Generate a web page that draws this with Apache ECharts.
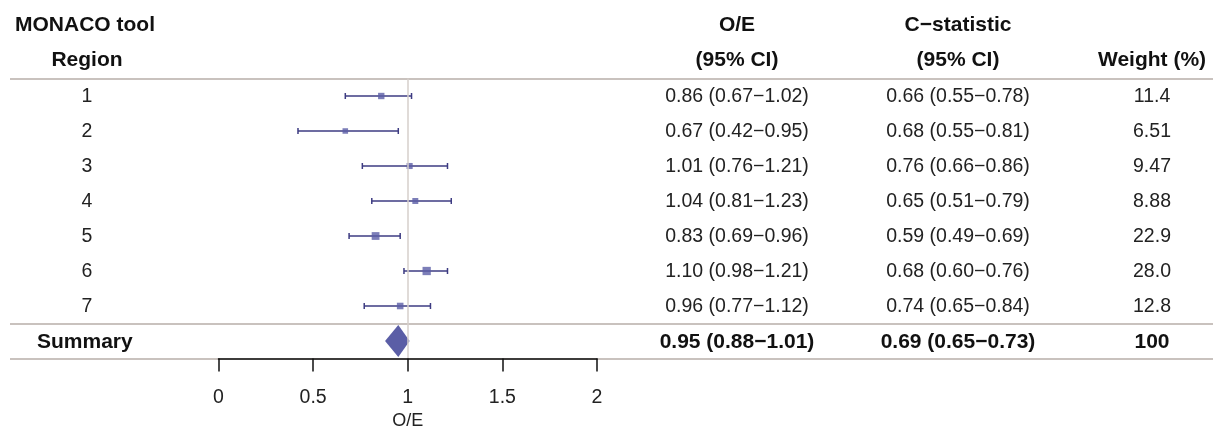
<!DOCTYPE html>
<html>
<head>
<meta charset="utf-8">
<script src="https://cdn.jsdelivr.net/npm/echarts@6/dist/echarts.min.js"></script>
<style>
html,body{margin:0;padding:0;background:#fff;}
#main{width:1213px;height:428px;}
</style>
</head>
<body>
<div id="main"></div>
<script>
// ---- data ----
const regions = ['1','2','3','4','5','6','7'];
const oeEst = [0.86, 0.67, 1.01, 1.04, 0.83, 1.10, 0.96];
const oeLow = [0.67, 0.42, 0.76, 0.81, 0.69, 0.98, 0.77];
const oeHigh = [1.02, 0.95, 1.21, 1.23, 0.96, 1.21, 1.12];
const cEst = [0.66, 0.68, 0.76, 0.65, 0.59, 0.68, 0.74];
const cLow = [0.55, 0.55, 0.66, 0.51, 0.49, 0.60, 0.65];
const cHigh = [0.78, 0.81, 0.86, 0.79, 0.69, 0.76, 0.84];
const weights = ['11.4', '6.51', '9.47', '8.88', '22.9', '28.0', '12.8'];
const summaryLabel = 'Summary';
const summaryOE = [0.95, 0.88, 1.01];
const summaryC = [0.69, 0.65, 0.73];
const summaryWeight = '100';
const xTicks = [0, 0.5, 1, 1.5, 2];
const headerTop = ['MONACO tool', 'O/E', 'C\u2212statistic'];
const headerBottom = ['Region', '(95% CI)', '(95% CI)', 'Weight (%)'];

// ---- layout ----
const FONT = '"Liberation Sans", Arial, Helvetica, sans-serif';
const FS = 19.5;
const FSB = 21;
const colX = {label: 87, oe: 737, c: 958, w: 1152};
const fmt = (e, l, h) => e.toFixed(2) + ' (' + l.toFixed(2) + '\u2212' + h.toFixed(2) + ')';

const chart = echarts.init(document.getElementById('main'), null, {renderer: 'canvas'});

// table text items
const tableItems = [];
regions.forEach((r, i) => {
  tableItems.push([colX.label, i, r, 0, 'center']);
  tableItems.push([colX.oe, i, fmt(oeEst[i], oeLow[i], oeHigh[i]), 0, 'center']);
  tableItems.push([colX.c, i, fmt(cEst[i], cLow[i], cHigh[i]), 0, 'center']);
  tableItems.push([colX.w, i, weights[i], 0, 'center']);
});
const sRow = regions.length;
tableItems.push([37, sRow, summaryLabel, 1, 'left']);
tableItems.push([colX.oe, sRow, fmt(summaryOE[0], summaryOE[1], summaryOE[2]), 1, 'center']);
tableItems.push([colX.c, sRow, fmt(summaryC[0], summaryC[1], summaryC[2]), 1, 'center']);
tableItems.push([colX.w, sRow, summaryWeight, 1, 'center']);

const ciData = regions.map((r, i) => [oeLow[i], oeHigh[i], i]);
const ptData = regions.map((r, i) => [oeEst[i], i, parseFloat(weights[i])]);

const LINE_COL = '#3d3b82';
const PT_COL = '#5b5ea6';
const GRID_LINE = '#c9c2be';
const hdr = (txt, x, y) => ({type: 'text', x: x, y: y, style: {text: txt, font: 'bold ' + FSB + 'px ' + FONT, fill: '#111', textAlign: 'center', textVerticalAlign: 'middle'}});

const option = {
  animation: false,
  backgroundColor: '#ffffff',
  textStyle: {fontFamily: FONT},
  graphic: [
    {type: 'text', x: 15, y: 25, style: {text: headerTop[0], font: 'bold ' + FSB + 'px ' + FONT, fill: '#111', textAlign: 'left', textVerticalAlign: 'middle'}},
    hdr(headerTop[1], colX.oe, 25),
    hdr(headerTop[2], colX.c, 25),
    hdr(headerBottom[0], colX.label, 60),
    hdr(headerBottom[1], colX.oe, 60),
    hdr(headerBottom[2], colX.c, 60),
    hdr(headerBottom[3], colX.w, 60)
  ],
  grid: [
    {left: 218.5, width: 378.5, top: 78.5, height: 280, containLabel: false, outerBoundsMode: 'none'},
    {left: 10, right: 0, top: 78.5, height: 280, containLabel: false, outerBoundsMode: 'none'}
  ],
  xAxis: [
    {
      type: 'value', gridIndex: 0, min: 0, max: 2, interval: 0.5, z: 6,
      axisLine: {show: true, onZero: false, lineStyle: {color: '#111', width: 1.5}},
      axisTick: {show: true, length: 13, lineStyle: {color: '#111', width: 1.5}},
      axisLabel: {fontSize: FS, color: '#222', margin: 29, fontFamily: FONT,
        formatter: v => String(v)},
      splitLine: {show: false},
      name: 'O/E', nameLocation: 'middle', nameGap: 53,
      nameTextStyle: {fontSize: 18, color: '#222', fontFamily: FONT}
    },
    {type: 'value', gridIndex: 1, min: 10, max: 1213, show: false}
  ],
  yAxis: [
    {type: 'value', gridIndex: 0, min: -0.5, max: 7.5, inverse: true, show: false},
    {type: 'value', gridIndex: 1, min: -0.5, max: 7.5, inverse: true, show: false}
  ],
  series: [
    {
      type: 'line', xAxisIndex: 1, yAxisIndex: 1, data: [], z: 1,
      markLine: {
        silent: true, symbol: 'none', label: {show: false},
        lineStyle: {color: GRID_LINE, width: 2, type: 'solid'},
        data: [{yAxis: -0.5}, {yAxis: 6.5}, {yAxis: 7.5}]
      }
    },
    {
      type: 'line', xAxisIndex: 0, yAxisIndex: 0, data: [], z: 1,
      markLine: {
        silent: true, symbol: 'none', label: {show: false},
        lineStyle: {color: '#d6cfcb', width: 1.5, type: 'solid'},
        data: [{xAxis: 1}]
      }
    },
    {
      type: 'custom', xAxisIndex: 0, yAxisIndex: 0, z: 3,
      data: ciData,
      renderItem: function (params, api) {
        const a = api.coord([api.value(0), api.value(2)]);
        const b = api.coord([api.value(1), api.value(2)]);
        const st = {stroke: LINE_COL, lineWidth: 1.5};
        return {type: 'group', children: [
          {type: 'line', shape: {x1: a[0], y1: a[1], x2: b[0], y2: b[1]}, style: st},
          {type: 'line', shape: {x1: a[0], y1: a[1] - 3, x2: a[0], y2: a[1] + 3}, style: st},
          {type: 'line', shape: {x1: b[0], y1: b[1] - 3, x2: b[0], y2: b[1] + 3}, style: st}
        ]};
      }
    },
    {
      type: 'scatter', xAxisIndex: 0, yAxisIndex: 0, z: 4,
      data: ptData, symbol: 'rect',
      symbolSize: v => 3 + Math.sqrt(v[2]) * 1.0,
      itemStyle: {color: PT_COL}
    },
    {
      type: 'custom', xAxisIndex: 0, yAxisIndex: 0, z: 4,
      data: [[summaryOE[0], summaryOE[1], summaryOE[2], sRow]],
      renderItem: function (params, api) {
        const c = api.coord([api.value(0), api.value(3)]);
        const l = api.coord([api.value(1), api.value(3)]);
        const r = api.coord([api.value(2), api.value(3)]);
        const h = 16;
        return {type: 'polygon', shape: {points: [[l[0], c[1]], [c[0], c[1] - h], [r[0], c[1]], [c[0], c[1] + h]]},
          style: {fill: PT_COL}};
      }
    },
    {
      type: 'custom', xAxisIndex: 1, yAxisIndex: 1, z: 5,
      data: tableItems,
      renderItem: function (params, api) {
        const d = tableItems[params.dataIndex];
        const p = api.coord([d[0], d[1]]);
        return {type: 'text', x: p[0], y: p[1] + 1, style: {
          text: d[2], font: (d[3] ? 'bold ' + FSB : FS) + 'px ' + FONT,
          fill: d[3] ? '#111' : '#222', textAlign: d[4], textVerticalAlign: 'middle'}};
      }
    }
  ]
};
chart.setOption(option);
</script>
</body>
</html>
